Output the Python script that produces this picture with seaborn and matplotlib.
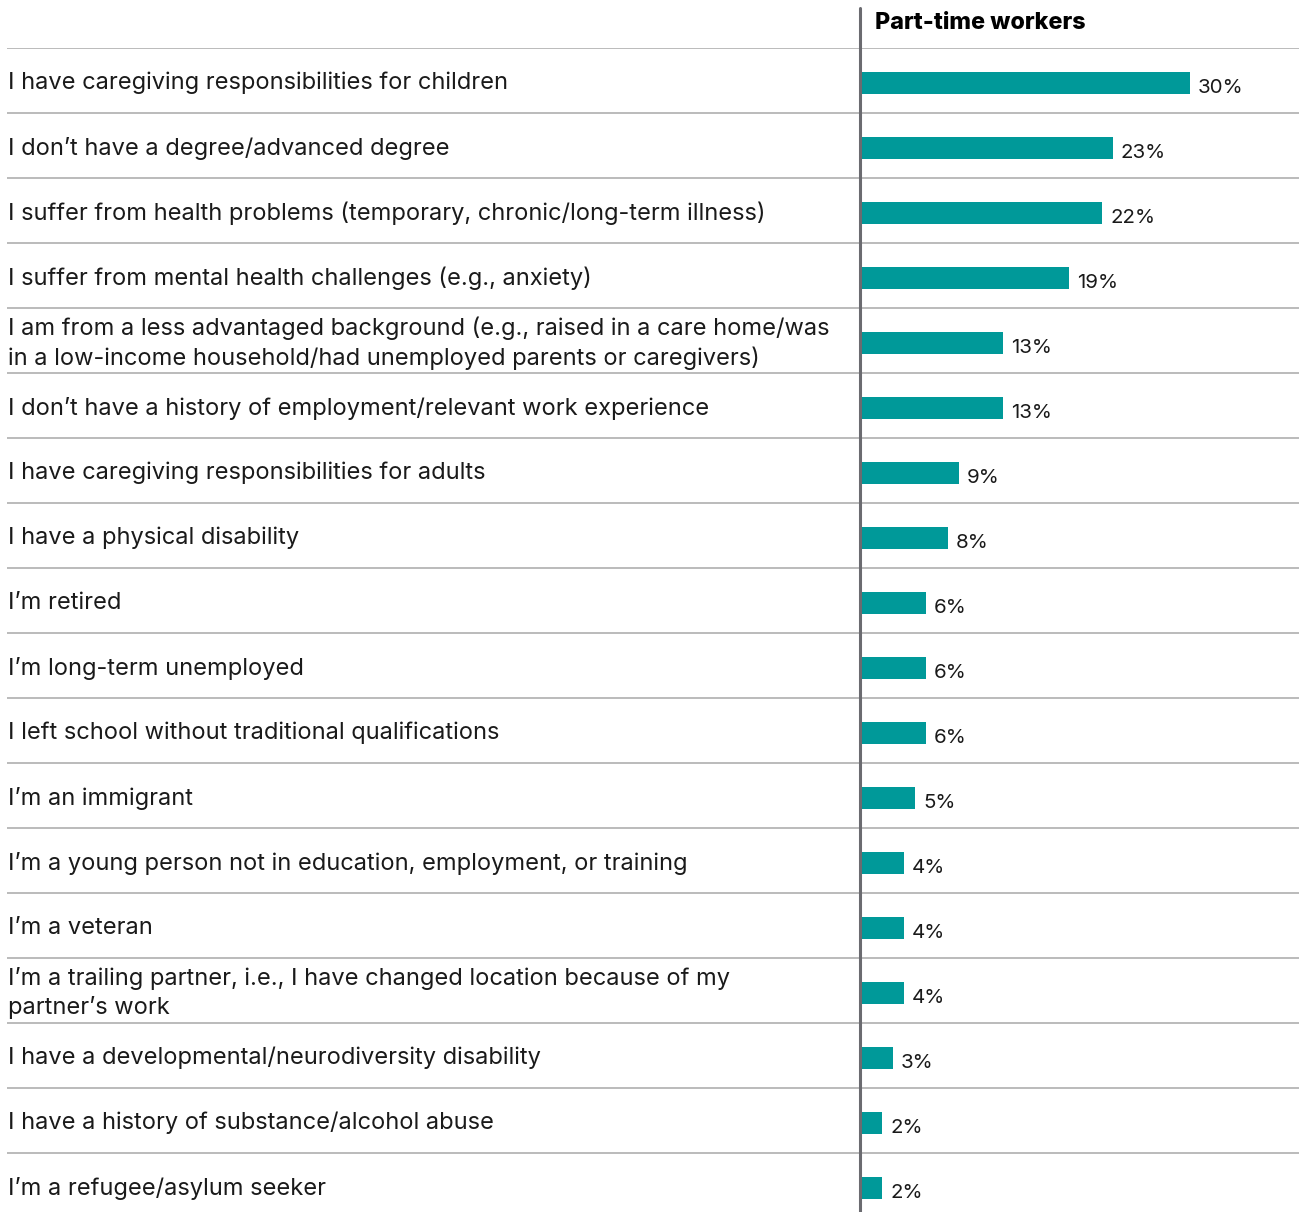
import matplotlib
matplotlib.use("Agg")
import matplotlib.pyplot as plt
import seaborn as sns
import pandas as pd

categories = [
    "I have caregiving responsibilities for children",
    "I don\u2019t have a degree/advanced degree",
    "I suffer from health problems (temporary, chronic/long-term illness)",
    "I suffer from mental health challenges (e.g., anxiety)",
    "I am from a less advantaged background (e.g., raised in a care home/was\nin a low-income household/had unemployed parents or caregivers)",
    "I don\u2019t have a history of employment/relevant work experience",
    "I have caregiving responsibilities for adults",
    "I have a physical disability",
    "I\u2019m retired",
    "I\u2019m long-term unemployed",
    "I left school without traditional qualifications",
    "I\u2019m an immigrant",
    "I\u2019m a young person not in education, employment, or training",
    "I\u2019m a veteran",
    "I\u2019m a trailing partner, i.e., I have changed location because of my\npartner\u2019s work",
    "I have a developmental/neurodiversity disability",
    "I have a history of substance/alcohol abuse",
    "I\u2019m a refugee/asylum seeker",
]
values = [30, 23, 22, 19, 13, 13, 9, 8, 6, 6, 6, 5, 4, 4, 4, 3, 2, 2]
series_title = "Part-time workers"

sns.set_theme(style="white")
plt.rcParams["font.family"] = ["Inter", "DejaVu Sans"]

W, H, DPI = 1299, 1212, 100
fig = plt.figure(figsize=(W / DPI, H / DPI), dpi=DPI)

# axes span from the left text margin to the right edge; zero sits at x=860px
left_px, right_px, zero_px, top_px = 7, 1299, 860, 48
px_per_unit = 11.0
row_px = 65.0
ax = fig.add_axes([left_px / W, 0, (right_px - left_px) / W, (H - top_px) / H])

df = pd.DataFrame({"category": categories, "value": values})
sns.barplot(data=df, y="category", x="value", orient="h", color="#009999",
            saturation=1, width=0.34, ax=ax)

n = len(categories)
xmin = -(zero_px - left_px) / px_per_unit
xmax = (right_px - zero_px) / px_per_unit
ax.set_xlim(xmin, xmax)
ax.set_ylim(-0.5 + (H - top_px) / row_px, -0.5)

# nudge bars slightly below row centre
for p in ax.patches:
    p.set_y(p.get_y() + 0.04)
    p.set_linewidth(0)

# row separators
for i in range(n):
    ax.axhline(i - 0.5, color="#b5b5b5", lw=1.3, zorder=0)

# vertical baseline, running up to the header
ax.axvline(0, ymin=0, ymax=1 + 40 / (H - top_px), color="#6b6b70", lw=2.2,
           clip_on=False, zorder=5)

# category labels
for i, cat in enumerate(categories):
    ax.text(xmin + 1 / px_per_unit, i + 0.04, cat, ha="left", va="center",
            fontsize=17.0, color="#1a1a1a", linespacing=1.32)

# value labels
for i, v in enumerate(values):
    ax.text(v + 8 / px_per_unit, i + 0.12, f"{v}%", ha="left", va="center",
            fontsize=14.8, color="#1a1a1a")

# series header
ax.text(15 / px_per_unit, -0.5 - 25 / row_px, series_title, ha="left",
        va="center", fontsize=16.8, fontweight="heavy", color="#000000",
        clip_on=False)

ax.set_xlabel("")
ax.set_ylabel("")
ax.set_xticks([])
ax.set_yticks([])
for s in ax.spines.values():
    s.set_visible(False)

fig.savefig("out.png", dpi=DPI)
